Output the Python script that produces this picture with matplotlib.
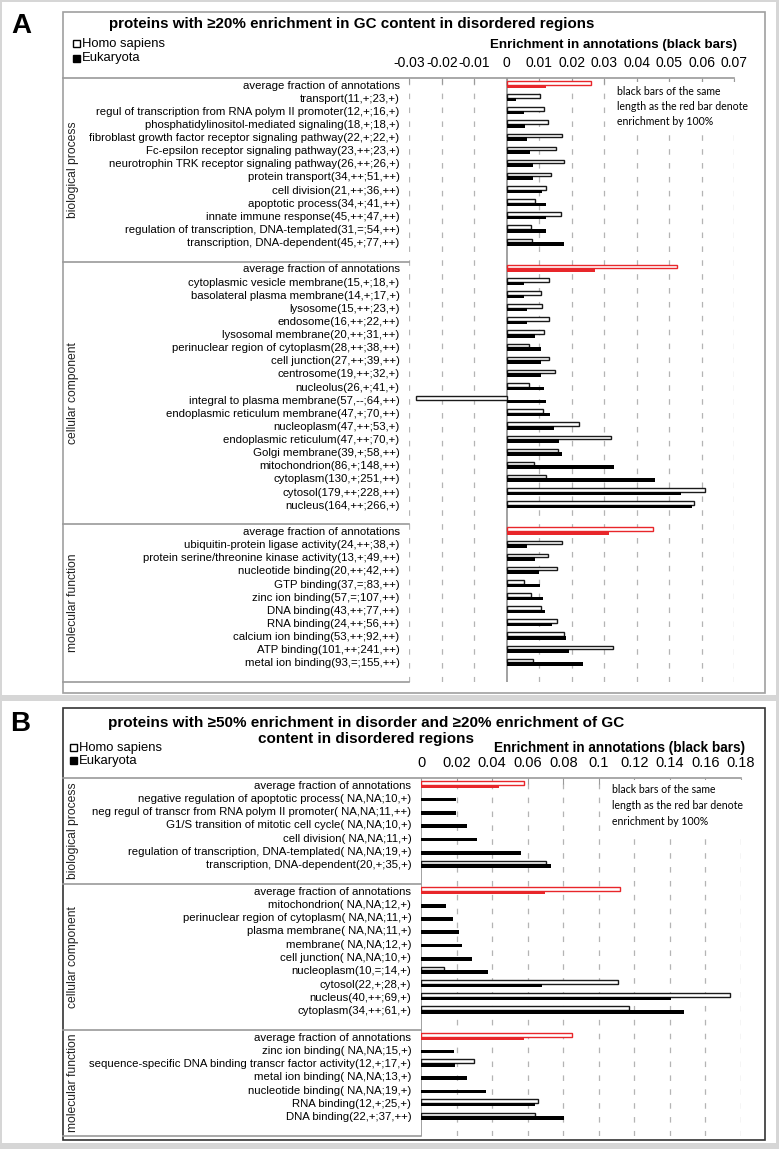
import numpy as np
import matplotlib
matplotlib.use('Agg')
import matplotlib.pyplot as plt
from matplotlib.lines import Line2D
from matplotlib.patches import Rectangle

plt.rcParams['font.family'] = ['Liberation Sans', 'DejaVu Sans']
plt.rcParams['lines.scale_dashes'] = False

W, H = 779, 1149
nan = np.nan

# ---------------- panel A data ----------------
a_bp_labels = ['average fraction of annotations', 'transport(11,+;23,+)',
               'regul of transcription from RNA polym II promoter(12,+;16,+)',
               'phosphatidylinositol-mediated signaling(18,+;18,+)',
               'fibroblast growth factor receptor signaling pathway(22,+;22,+)',
               'Fc-epsilon receptor signaling pathway(23,++;23,+)',
               'neurotrophin TRK receptor signaling pathway(26,++;26,+)',
               'protein transport(34,++;51,++)', 'cell division(21,++;36,++)',
               'apoptotic process(34,+;41,++)', 'innate immune response(45,++;47,++)',
               'regulation of transcription, DNA-templated(31,=;54,++)',
               'transcription, DNA-dependent(45,+;77,++)']
a_bp_homo = [0.0260, 0.0102, 0.0114, 0.0128, 0.0169, 0.0151, 0.0176, 0.0137, 0.0121, 0.0087, 0.0168, 0.0074, 0.0077]
a_bp_euk = [0.0121, 0.0028, 0.0053, 0.0056, 0.0064, 0.0072, 0.0080, 0.0080, 0.0108, 0.0121, 0.0121, 0.0121, 0.0177]

a_cc_labels = ['average fraction of annotations', 'cytoplasmic vesicle membrane(15,+;18,+)',
               'basolateral plasma membrane(14,+;17,+)', 'lysosome(15,++;23,+)',
               'endosome(16,++;22,++)', 'lysosomal membrane(20,++;31,++)',
               'perinuclear region of cytoplasm(28,++;38,++)', 'cell junction(27,++;39,++)',
               'centrosome(19,++;32,+)', 'nucleolus(26,+;41,+)',
               'integral to plasma membrane(57,--;64,++)',
               'endoplasmic reticulum membrane(47,+;70,++)', 'nucleoplasm(47,++;53,+)',
               'endoplasmic reticulum(47,++;70,+)', 'Golgi membrane(39,+;58,++)',
               'mitochondrion(86,+;148,++)', 'cytoplasm(130,+;251,++)',
               'cytosol(179,++;228,++)', 'nucleus(164,++;266,+)']
a_cc_homo = [0.0524, 0.0131, 0.0105, 0.0110, 0.0129, 0.0116, 0.0070, 0.0131, 0.0150, 0.0070,
             -0.0280, 0.0113, 0.0224, 0.0320, 0.0159, 0.0085, 0.0120, 0.0610, 0.0576]
a_cc_euk = [0.0272, 0.0053, 0.0053, 0.0064, 0.0064, 0.0088, 0.0105, 0.0105, 0.0106, 0.0116,
            0.0122, 0.0133, 0.0147, 0.0162, 0.0170, 0.0330, 0.0457, 0.0536, 0.0571]

a_mf_labels = ['average fraction of annotations', 'ubiquitin-protein ligase activity(24,++;38,+)',
               'protein serine/threonine kinase activity(13,+;49,++)',
               'nucleotide binding(20,++;42,++)', 'GTP binding(37,=;83,++)',
               'zinc ion binding(57,=;107,++)', 'DNA binding(43,++;77,++)',
               'RNA binding(24,++;56,++)', 'calcium ion binding(53,++;92,++)',
               'ATP binding(101,++;241,++)', 'metal ion binding(93,=;155,++)']
a_mf_homo = [0.0449, 0.0169, 0.0127, 0.0156, 0.0054, 0.0075, 0.0107, 0.0155, 0.0175, 0.0327, 0.0080]
a_mf_euk = [0.0314, 0.0061, 0.0086, 0.0100, 0.0103, 0.0112, 0.0117, 0.0140, 0.0184, 0.0192, 0.0235]

a_ticks = [-0.03, -0.02, -0.01, 0, 0.01, 0.02, 0.03, 0.04, 0.05, 0.06, 0.07]
a_ticklabels = ['-0.03', '-0.02', '-0.01', '0', '0.01', '0.02', '0.03', '0.04', '0.05', '0.06', '0.07']

# ---------------- panel B data ----------------
b_bp_labels = ['average fraction of annotations',
               'negative regulation of apoptotic process( NA,NA;10,+)',
               'neg regul of transcr from RNA polym II promoter( NA,NA;11,++)',
               'G1/S transition of mitotic cell cycle( NA,NA;10,+)',
               'cell division( NA,NA;11,+)',
               'regulation of transcription, DNA-templated( NA,NA;19,+)',
               'transcription, DNA-dependent(20,+;35,+)']
b_bp_homo = [0.0581, nan, nan, nan, nan, nan, 0.0701]
b_bp_euk = [0.0441, 0.0196, 0.0196, 0.0260, 0.0313, 0.0564, 0.0732]

b_cc_labels = ['average fraction of annotations', 'mitochondrion( NA,NA;12,+)',
               'perinuclear region of cytoplasm( NA,NA;11,+)', 'plasma membrane( NA,NA;11,+)',
               'membrane( NA,NA;12,+)', 'cell junction( NA,NA;10,+)', 'nucleoplasm(10,=;14,+)',
               'cytosol(22,+;28,+)', 'nucleus(40,++;69,+)', 'cytoplasm(34,++;61,+)']
b_cc_homo = [0.1117, nan, nan, nan, nan, nan, 0.0131, 0.1110, 0.1740, 0.1170]
b_cc_euk = [0.0698, 0.0140, 0.0179, 0.0215, 0.0229, 0.0288, 0.0377, 0.0680, 0.1405, 0.1480]

b_mf_labels = ['average fraction of annotations', 'zinc ion binding( NA,NA;15,+)',
               'sequence-specific DNA binding transcr factor activity(12,+;17,+)',
               'metal ion binding( NA,NA;13,+)', 'nucleotide binding( NA,NA;19,+)',
               'RNA binding(12,+;25,+)', 'DNA binding(22,+;37,++)']
b_mf_homo = [0.0849, nan, 0.0296, nan, nan, 0.0656, 0.0642]
b_mf_euk = [0.0581, 0.0184, 0.0193, 0.0257, 0.0363, 0.0642, 0.0807]

b_ticks = [0, 0.02, 0.04, 0.06, 0.08, 0.1, 0.12, 0.14, 0.16, 0.18]
b_ticklabels = ['0', '0.02', '0.04', '0.06', '0.08', '0.1', '0.12', '0.14', '0.16', '0.18']

group_names = ['biological process', 'cellular component', 'molecular function']
note = 'black bars of the same\nlength as the red bar denote\nenrichment by 100%'

RED = '#e8262a'
GRID = '#b4b4b4'
LINE = '#9a9a9a'


def fx(x):
    return x / W


def fy(y):
    return 1 - y / H


def hline(fig, x0, x1, y, color=LINE, lw=1.2):
    fig.add_artist(Line2D([fx(x0), fx(x1)], [fy(y), fy(y)], color=color, lw=lw))


def draw_panel(fig, box, groups, ticks, ticklabels, tab_left, lab_size, tick_size):
    left, right, top, bottom = box
    ax = fig.add_axes([fx(left), fy(bottom), fx(right) - fx(left), fy(top) - fy(bottom)])
    pos, labels, bounds = [], [], []
    slot = 0
    for labs, homo, euk in groups:
        start = slot
        for i, lab in enumerate(labs):
            y = slot
            avg = (i == 0)
            h = homo[i]
            if not np.isnan(h):
                ax.barh(y - 0.135, h, height=0.27,
                        facecolor='white', edgecolor=RED if avg else '#1a1a1a',
                        lw=1.0, zorder=3)
            ax.barh(y + 0.135, euk[i], height=0.27,
                    color=RED if avg else 'black', lw=0, zorder=3)
            pos.append(y)
            labels.append(lab)
            slot += 1
        slot += 1  # blank row closing the group
        bounds.append((start - 0.5, slot - 0.5))
    ax.set_ylim(slot - 0.5, -0.5)
    ax.set_xlim(ticks[0], ticks[-1])
    ax.set_yticks(pos, labels, fontsize=lab_size)
    ax.tick_params(axis='y', length=0, pad=7)
    ax.xaxis.tick_top()
    ax.set_xticks(ticks, ticklabels, fontsize=tick_size)
    ax.tick_params(axis='x', direction='in', length=4, color=LINE, pad=6)
    for s in ax.spines.values():
        s.set_visible(False)
    ax.patch.set_alpha(0)
    for t in ticks:
        if t != 0:
            ax.axvline(t, color=GRID, lw=0.9, ls=(0, (4, 6)), zorder=1)
    ax.axvline(0, color=LINE, lw=1.3, zorder=2)

    # table lines and group captions
    rowpx = (bottom - top) / slot
    hline(fig, tab_left, right, top)
    for (b0, b1), name in zip(bounds, group_names):
        ypx = top + (b1 + 0.5) * rowpx
        hline(fig, tab_left, left, ypx)
        yc = top + ((b0 + b1) / 2 + 0.5) * rowpx
        fig.text(fx(tab_left + 10), fy(yc), name, rotation=90, ha='center', va='center',
                 fontsize=8.7, color='#222')
    return ax


fig = plt.figure(figsize=(W / 100, H / 100), dpi=100, facecolor='#d6d6d6')

# page panels
fig.add_artist(Rectangle((fx(2), fy(695)), fx(774), 693 / H, transform=fig.transFigure,
                         facecolor='white', edgecolor='none', zorder=-5))
fig.add_artist(Rectangle((fx(2), fy(1143)), fx(774), 442 / H, transform=fig.transFigure,
                         facecolor='white', edgecolor='none', zorder=-5))
fig.add_artist(Rectangle((fx(63), fy(693)), fx(702), 681 / H, transform=fig.transFigure,
                         facecolor='none', edgecolor='#a0a0a0', lw=1.2))
fig.add_artist(Rectangle((fx(63), fy(1140)), fx(702), 432 / H, transform=fig.transFigure,
                         facecolor='none', edgecolor='#333333', lw=1.2))

# ---- panel A ----
axA = draw_panel(fig, (409.3, 734, 78, 682),
                 [(a_bp_labels, a_bp_homo, a_bp_euk),
                  (a_cc_labels, a_cc_homo, a_cc_euk),
                  (a_mf_labels, a_mf_homo, a_mf_euk)],
                 a_ticks, a_ticklabels, 63, 8.2, 10)
fig.text(fx(21), fy(26), 'A', fontsize=20, fontweight='bold', ha='center', va='center')
fig.text(fx(352), fy(24), 'proteins with \u226520% enrichment in GC content in disordered regions',
         fontsize=10.9, fontweight='bold', ha='center', va='center')
fig.text(fx(613), fy(45), 'Enrichment in annotations (black bars)',
         fontsize=9.6, fontweight='bold', ha='center', va='center')
fig.text(fx(617), fy(86), note, fontsize=7.6, family='Lato', ha='left', va='top', linespacing=1.45,
         bbox=dict(facecolor='white', edgecolor='none', pad=3))
fig.add_artist(Rectangle((fx(73), fy(47)), 7 / W, 7 / H, transform=fig.transFigure,
                         facecolor='white', edgecolor='black', lw=1))
fig.add_artist(Rectangle((fx(73), fy(62)), 7 / W, 7 / H, transform=fig.transFigure,
                         facecolor='black', edgecolor='black', lw=1))
fig.text(fx(82), fy(44), 'Homo sapiens', fontsize=9.4, ha='left', va='center')
fig.text(fx(82), fy(58), 'Eukaryota', fontsize=9.4, ha='left', va='center')

# ---- panel B ----
axB = draw_panel(fig, (421, 741, 778, 1136),
                 [(b_bp_labels, b_bp_homo, b_bp_euk),
                  (b_cc_labels, b_cc_homo, b_cc_euk),
                  (b_mf_labels, b_mf_homo, b_mf_euk)],
                 b_ticks, b_ticklabels, 63, 8.2, 10.5)
fig.text(fx(20), fy(724), 'B', fontsize=20, fontweight='bold', ha='center', va='center')
fig.text(fx(366), fy(723), 'proteins with \u226550% enrichment in disorder and \u226520% enrichment of GC',
         fontsize=11, fontweight='bold', ha='center', va='center')
fig.text(fx(366), fy(739), 'content in disordered regions',
         fontsize=11, fontweight='bold', ha='center', va='center')
fig.text(fx(620), fy(748), 'Enrichment in annotations (black bars)',
         fontsize=9.8, fontweight='bold', ha='center', va='center')
fig.text(fx(612), fy(784), note, fontsize=7.6, family='Lato', ha='left', va='top', linespacing=1.55,
         bbox=dict(facecolor='white', edgecolor='none', pad=3))
fig.add_artist(Rectangle((fx(70), fy(751)), 7 / W, 7 / H, transform=fig.transFigure,
                         facecolor='white', edgecolor='black', lw=1))
fig.add_artist(Rectangle((fx(70), fy(764)), 7 / W, 7 / H, transform=fig.transFigure,
                         facecolor='black', edgecolor='black', lw=1))
fig.text(fx(79), fy(748), 'Homo sapiens', fontsize=9.4, ha='left', va='center')
fig.text(fx(79), fy(761), 'Eukaryota', fontsize=9.4, ha='left', va='center')

fig.savefig('out.png', dpi=100, facecolor=fig.get_facecolor())
